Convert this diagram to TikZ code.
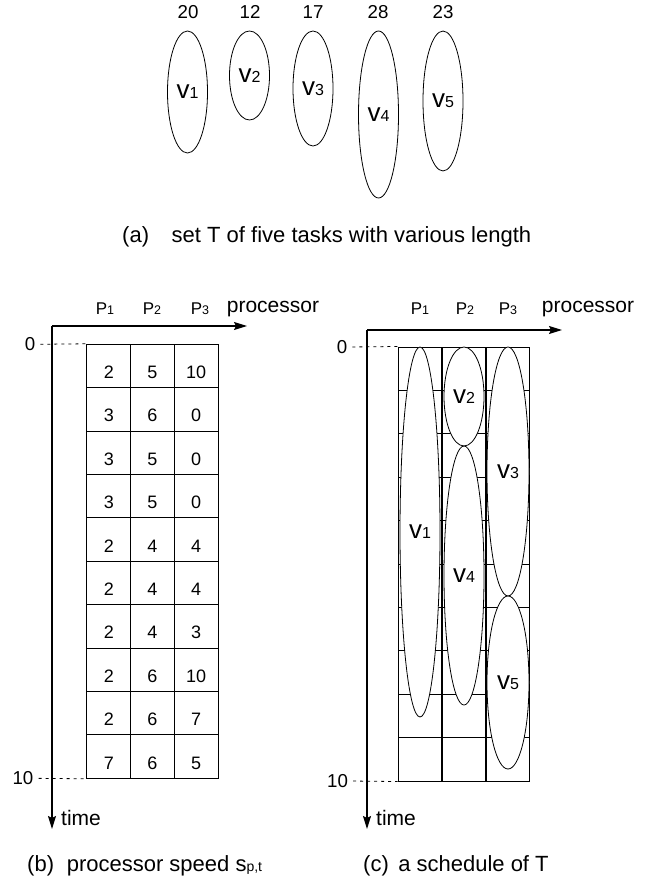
\documentclass[tikz,border=0pt]{standalone}
\usepackage{fontspec}
\setmainfont{Liberation Sans}
\usetikzlibrary{shapes.geometric,arrows.meta,positioning}

\newcommand{\vtask}[1]{{\fontsize{26}{26}\selectfont v}{\fontsize{16}{16}\selectfont #1}}
\newcommand{\proc}[1]{P{\fontsize{12.5}{13}\selectfont #1}}

\begin{document}
\begin{tikzpicture}[
			x=1pt, y=-1pt,
			num/.style={font=\fontsize{18.7}{20}\selectfont, inner sep=0pt},
			plbl/.style={font=\fontsize{17}{20}\selectfont, inner sep=0pt},
			axlbl/.style={font=\fontsize{21}{24}\selectfont, inner sep=0pt},
			caption/.style={font=\fontsize{22}{26}\selectfont, inner sep=0pt, anchor=base west},
			task/.style={ellipse, draw, fill=white, line width=0.8pt, inner sep=0pt, minimum width=40pt},
			cell/.style={rectangle, draw, line width=1pt, inner sep=0pt, minimum width=43.7pt, minimum height=43.4pt,
				font=\fontsize{18}{20}\selectfont, text height=25pt, text depth=0pt},
			axis/.style={line width=1.2pt, -{Stealth[length=13pt, width=8pt, inset=2pt]}},
			guide/.style={line width=0.8pt, dash pattern=on 3pt off 4pt}
		]
		\useasboundingbox (0,0) rectangle (648,882);

		% (a) the five tasks
		\node[num] (w1) at (188,12) {20};
		\node[num] (w2) at (250,12) {12};
		\node[num] (w3) at (313,12) {17};
		\node[num] (w4) at (378,12) {28};
		\node[num] (w5) at (443,12) {23};

		\node[task, minimum height=122pt] (t1) at (187.5,92) {\vtask1};
		\node[task, minimum height=89pt] (t2) at (249.5,75.5) {\vtask2};
		\node[task, minimum height=115pt] (t3) at (313,88.5) {\vtask3};
		\node[task, minimum height=167pt] (t4) at (378.5,114.5) {\vtask4};
		\node[task, minimum height=140pt] (t5) at (443,101) {\vtask5};

		\node[caption] (capa) at (122,243) {(a)\hspace{0.75em} set T of five tasks with various length};

		% (b) processor speed
		\coordinate (bo) at (52,326);
		\coordinate (bx) at (247,326);
		\coordinate (by) at (52,829);
		\draw[axis] (bo) -- (bx);
		\draw[axis] (bo) -- (by);
		\node[plbl] (bp1) at (105,309) {\proc1};
		\node[plbl] (bp2) at (152,309) {\proc2};
		\node[plbl] (bp3) at (200,309) {\proc3};
		\node[axlbl] (bproc) at (273,309) {processor};
		\node[axlbl, anchor=west] (btime) at (61,818) {time};

		\foreach \r/\spa/\spb/\spc in {0/2/5/10,1/3/6/0,2/3/5/0,3/3/5/0,4/2/4/4,
				5/2/4/4,6/2/4/3,7/2/6/10,8/2/6/7,9/7/6/5}{
			\node[cell] (b-\r-1) at (108.8,{366+43.4*\r}) {\spa};
			\node[cell] (b-\r-2) at (152.5,{366+43.4*\r}) {\spb};
			\node[cell] (b-\r-3) at (196.2,{366+43.4*\r}) {\spc};
		}

		\node[num] (bzero) at (30,344.3) {0};
		\node[num] (bten) at (23,778.3) {10};
		\draw[guide, shorten <=5pt] (bzero.east) -- (b-0-1.north west);
		\draw[guide, shorten <=5pt] (bten.east) -- (b-9-1.south west);

		\node[caption] (capb) at (27,871) {(b)\hspace{0.3em} processor speed s{\fontsize{14}{14}\selectfont p,t}};

		% (c) a schedule of T
		\coordinate (co) at (367,330);
		\coordinate (cx) at (562,330);
		\coordinate (cy) at (367,829);
		\draw[axis] (co) -- (cx);
		\draw[axis] (co) -- (cy);
		\node[plbl] (cp1) at (420,309) {\proc1};
		\node[plbl] (cp2) at (465,309) {\proc2};
		\node[plbl] (cp3) at (508,309) {\proc3};
		\node[axlbl] (cproc) at (588,309) {processor};
		\node[axlbl, anchor=west] (ctime) at (376,818) {time};

		\foreach \r in {0,...,9}{
			\node[cell] (c-\r-1) at (420,{368.7+43.4*\r}) {};
			\node[cell] (c-\r-2) at (464,{368.7+43.4*\r}) {};
			\node[cell] (c-\r-3) at (508,{368.7+43.4*\r}) {};
		}

		\node[num] (czero) at (342,347) {0};
		\node[num] (cten) at (337.5,781) {10};
		\draw[guide, shorten <=5pt] (czero.east) -- (c-0-1.north west);
		\draw[guide, shorten <=5pt] (cten.east) -- (c-9-1.south west);

		\node[task, minimum height=370pt] (s1) at (420,532) {\vtask1};
		\node[task, minimum height=99pt] (s2) at (464,396.5) {\vtask2};
		\node[task, minimum height=259pt] (s4) at (464,575.5) {\vtask4};
		\node[task, minimum height=249pt, minimum width=42pt] (s3) at (508,471.5) {\vtask3};
		\node[task, minimum height=173pt, minimum width=42pt] (s5) at (508,682.5) {\vtask5};

		\node[caption] (capc) at (363,871) {(c)\hspace{0.15em} a schedule of T};

	\end{tikzpicture}
\end{document}
